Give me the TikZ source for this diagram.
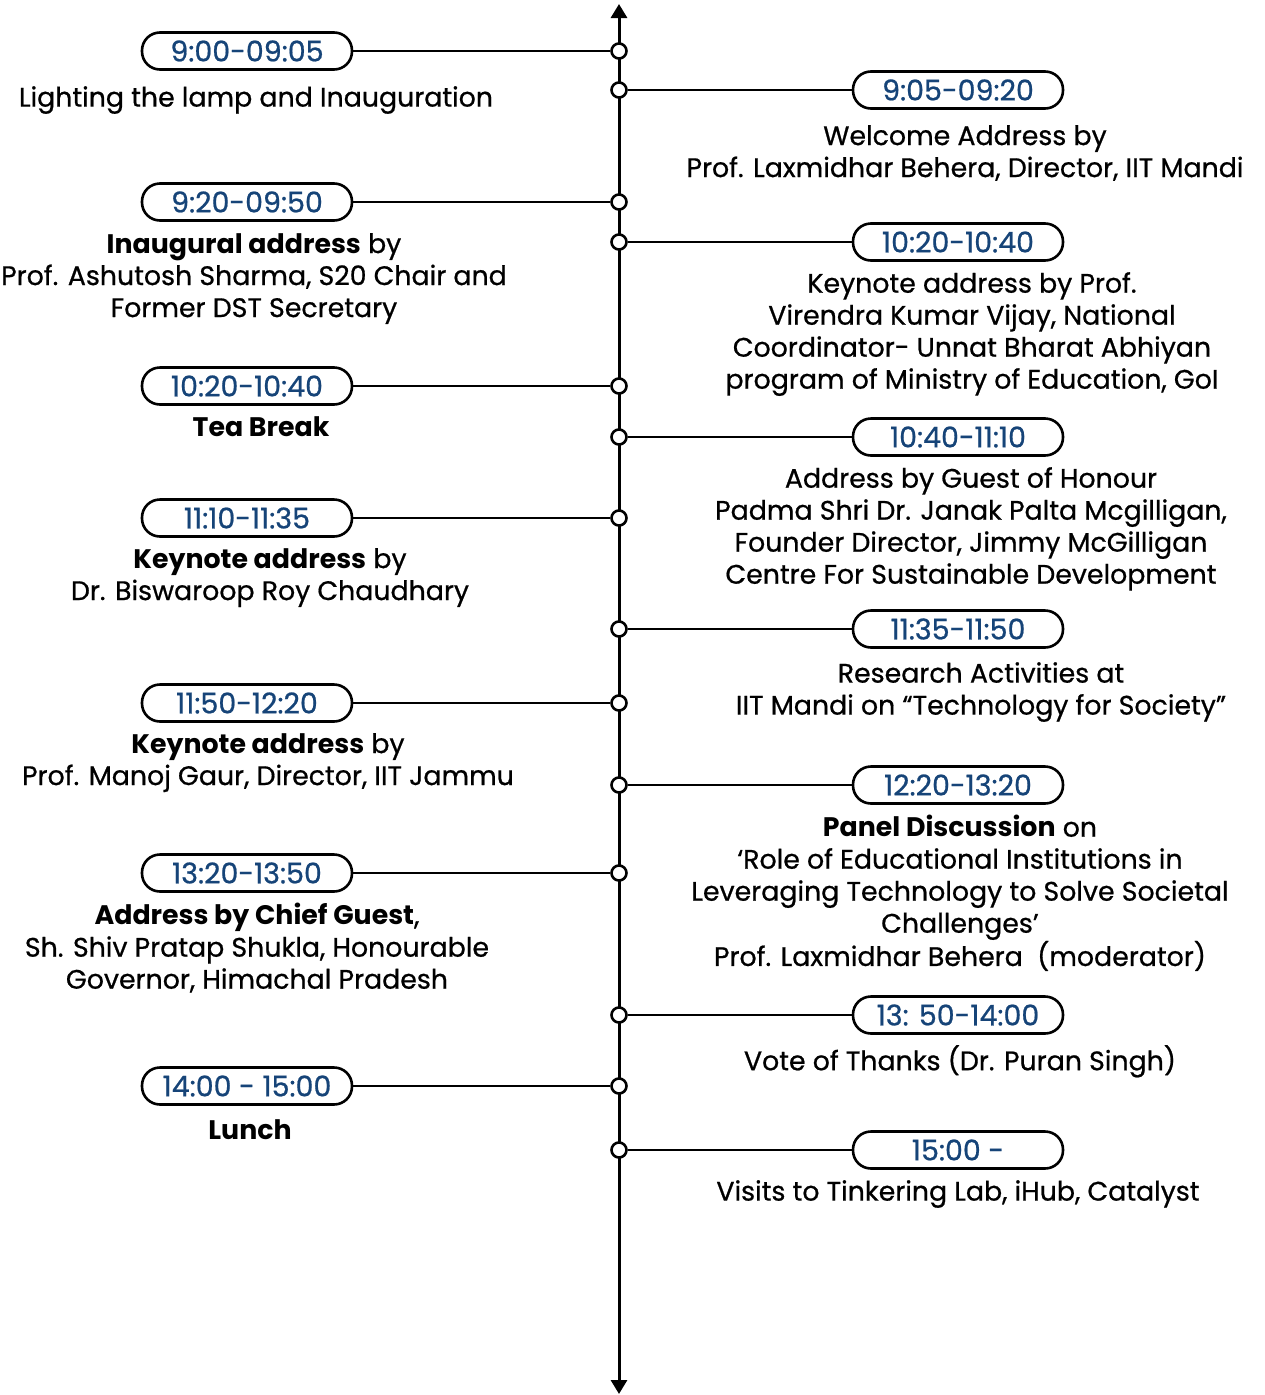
\documentclass[tikz,border=0pt]{standalone}
\usepackage{fontspec}
\setmainfont{Poppins}[UprightFeatures={FakeBold=0.7}]
\usetikzlibrary{arrows.meta}
\definecolor{tblue}{RGB}{22,68,120}
\begin{document}
\begin{tikzpicture}[x=1pt,y=-1pt,
  pill/.style={draw=black, line width=2.6pt, fill=white, rounded corners=18pt, minimum width=210pt, minimum height=37pt, inner sep=0pt, text=tblue, font=\fontsize{28.5}{30}\selectfont},
  dot/.style={circle, draw=black, line width=2.6pt, fill=white, minimum size=15pt, inner sep=0pt},
  link/.style={line width=2pt},
  desc/.style={align=center, anchor=north, inner sep=0pt, font=\fontsize{26.8}{32}\selectfont},
  axis/.style={line width=3pt, {Triangle[width=16pt,length=14pt]}-{Triangle[width=16pt,length=14pt]}},
]
\useasboundingbox (0,0) rectangle (1264,1395);
\coordinate (top) at (619,4);
\coordinate (bot) at (619,1394);
\draw[axis] (top) -- (bot);

% left events
\node[dot] (dl1) at (619,51) {};
\node[pill] (pl1) at (247,51) {9:00-09:05};
\draw[link] (pl1) -- (dl1);
\node[desc] (tl1) at (256,86) {Lighting the lamp and Inauguration};

\node[dot] (dl2) at (619,202) {};
\node[pill] (pl2) at (247,202) {9:20-09:50};
\draw[link] (pl2) -- (dl2);
\node[desc] (tl2) at (254,233) {\textbf{Inaugural address} by\\Prof. Ashutosh Sharma, S20 Chair and\\Former DST Secretary};

\node[dot] (dl3) at (619,386) {};
\node[pill] (pl3) at (247,386) {10:20-10:40};
\draw[link] (pl3) -- (dl3);
\node[desc] (tl3) at (261,416) {\textbf{Tea Break}};

\node[dot] (dl4) at (619,518) {};
\node[pill] (pl4) at (247,518) {11:10-11:35};
\draw[link] (pl4) -- (dl4);
\node[desc] (tl4) at (270,548) {\textbf{Keynote address} by\\Dr. Biswaroop Roy Chaudhary};

\node[dot] (dl5) at (619,703) {};
\node[pill] (pl5) at (247,703) {11:50-12:20};
\draw[link] (pl5) -- (dl5);
\node[desc] (tl5) at (268,733) {\textbf{Keynote address} by\\Prof. Manoj Gaur, Director, IIT Jammu};

\node[dot] (dl6) at (619,873) {};
\node[pill] (pl6) at (247,873) {13:20-13:50};
\draw[link] (pl6) -- (dl6);
\node[desc] (tl6) at (257,903) {\textbf{Address by Chief Guest},\\Sh. Shiv Pratap Shukla, Honourable\\Governor, Himachal Pradesh};

\node[dot] (dl7) at (619,1086) {};
\node[pill] (pl7) at (247,1086) {14:00 - 15:00};
\draw[link] (pl7) -- (dl7);
\node[desc] (tl7) at (250,1119) {\textbf{Lunch}};

% right events
\node[dot] (dr1) at (619,90) {};
\node[pill] (pr1) at (958,90) {9:05-09:20};
\draw[link] (dr1) -- (pr1);
\node[desc] (tr1) at (965,125) {Welcome Address by\\Prof. Laxmidhar Behera, Director, IIT Mandi};

\node[dot] (dr2) at (619,242) {};
\node[pill] (pr2) at (958,242) {10:20-10:40};
\draw[link] (dr2) -- (pr2);
\node[desc] (tr2) at (972,272) {Keynote address by Prof.\\Virendra Kumar Vijay, National\\Coordinator- Unnat Bharat Abhiyan\\program of Ministry of Education, GoI};

\node[dot] (dr3) at (619,437) {};
\node[pill] (pr3) at (958,437) {10:40-11:10};
\draw[link] (dr3) -- (pr3);
\node[desc] (tr3) at (971,467) {Address by Guest of Honour\\Padma Shri Dr. Janak Palta Mcgilligan,\\Founder Director, Jimmy McGilligan\\Centre For Sustainable Development};

\node[dot] (dr4) at (619,629) {};
\node[pill] (pr4) at (958,629) {11:35-11:50};
\draw[link] (dr4) -- (pr4);
\node[desc] (tr4) at (981,662) {Research Activities at\\IIT Mandi on “Technology for Society”};

\node[dot] (dr5) at (619,785) {};
\node[pill] (pr5) at (958,785) {12:20-13:20};
\draw[link] (dr5) -- (pr5);
\node[desc] (tr5) at (960,815) {\textbf{Panel Discussion} on\\‘Role of Educational Institutions in\\Leveraging Technology to Solve Societal\\Challenges’\\Prof. Laxmidhar Behera\ \ (moderator)};

\node[dot] (dr6) at (619,1015) {};
\node[pill] (pr6) at (958,1015) {13: 50-14:00};
\draw[link] (dr6) -- (pr6);
\node[desc] (tr6) at (960,1045) {Vote of Thanks (Dr. Puran Singh)};

\node[dot] (dr7) at (619,1150) {};
\node[pill] (pr7) at (958,1150) {15:00 -};
\draw[link] (dr7) -- (pr7);
\node[desc] (tr7) at (958,1180) {Visits to Tinkering Lab, iHub, Catalyst};
\end{tikzpicture}
\end{document}
